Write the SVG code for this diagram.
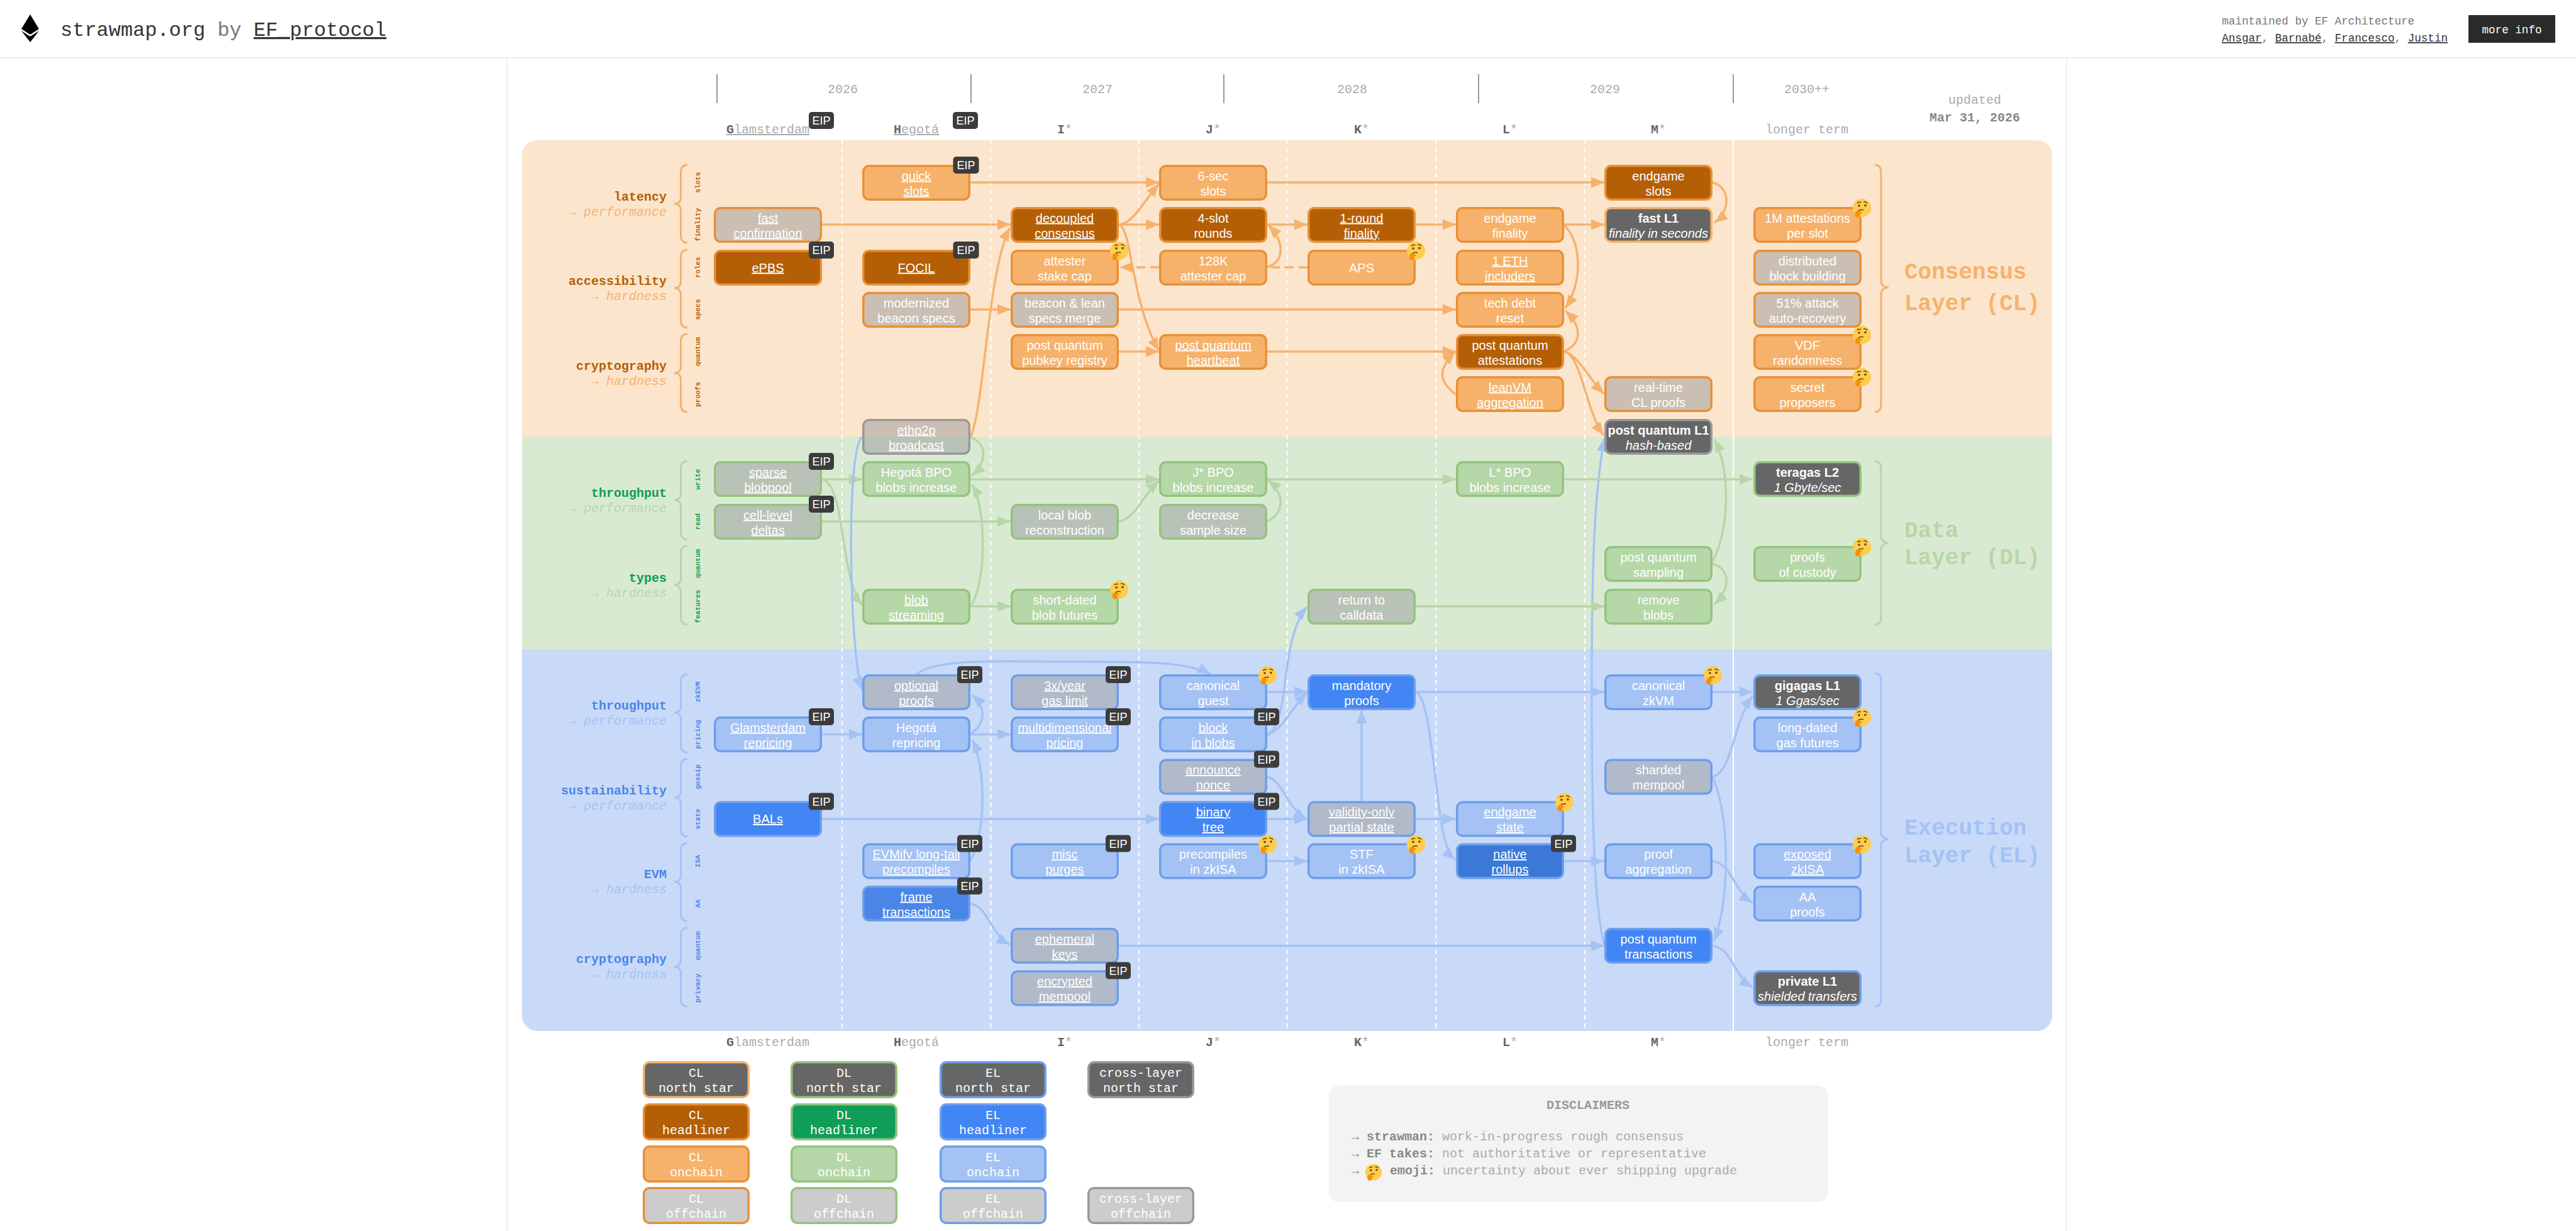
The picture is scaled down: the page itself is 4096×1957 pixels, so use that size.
<svg xmlns="http://www.w3.org/2000/svg" width="4096" height="1957" viewBox="0 0 4096 1957">
<style>
text{font-family:"Liberation Mono",monospace}
.t{font-family:"Liberation Sans",Arial,sans-serif;font-size:20px;fill:#fff;text-anchor:middle}
.u{text-decoration:underline}.i{font-style:italic}.s{font-weight:700}
.nd>rect{stroke-width:3.5}
.cl-h{fill:#b45f06;stroke:#e69138}.cl-o{fill:#f6b26b;stroke:#e69138}.cl-x{fill:#999;fill-opacity:.5;stroke:#e69138}.cl-n{fill:#666;stroke:#f6b26b}
.dl-h{fill:#0f9d58;stroke:#93c47d}.dl-o{fill:#b6d7a8;stroke:#93c47d}.dl-x{fill:#999;fill-opacity:.5;stroke:#93c47d}.dl-n{fill:#666;stroke:#93c47d}
.el-h{fill:#4285f4;stroke:#6d9eeb}.el-o{fill:#a4c2f4;stroke:#6d9eeb}.el-x{fill:#999;fill-opacity:.5;stroke:#6d9eeb}.el-n{fill:#666;stroke:#6d9eeb}
.xl-n{fill:#666;stroke:#999}.xl-x{fill:#999;fill-opacity:.5;stroke:#999}
.eb{fill:#3c3c3c}
.et{font-family:"Liberation Sans",Arial,sans-serif;font-size:18px;fill:#fff;text-anchor:middle}
.c{fill:none;stroke-width:3.5}
.ccl{stroke:#f6b26b;marker-end:url(#acl)}.cdl{stroke:#b6d7a8;marker-end:url(#adl)}.cel{stroke:#a4c2f4;marker-end:url(#ael)}
.br{fill:none;stroke-width:3}
.fork{font-size:20px;fill:#aaa;text-anchor:middle}.fork .s{fill:#666}
.year{font-size:20px;fill:#aaa;text-anchor:middle}
.cat{font-size:20px;font-weight:700;text-anchor:end}
.sub{font-size:20px;text-anchor:end;font-weight:700}
.sub tspan{font-style:italic;font-weight:400}
.vl{font-size:11px;font-weight:700;text-anchor:middle}
.big{font-size:36px;font-weight:700}
.lg{font-size:20px;fill:#fff;text-anchor:middle}
.dash{stroke:#fff;stroke-width:2;stroke-dasharray:7 6}
.hd{font-size:17.6px;fill:#777}
.dis{font-size:20px;fill:#aaa}.dis .s{fill:#888}
</style>
<defs>
<marker id="acl" markerUnits="userSpaceOnUse" markerWidth="22" markerHeight="18" refX="21" refY="9" orient="auto"><path d="M0 .5L21 9L0 17.5z" fill="#f6b26b"/></marker>
<marker id="adl" markerUnits="userSpaceOnUse" markerWidth="22" markerHeight="18" refX="21" refY="9" orient="auto"><path d="M0 .5L21 9L0 17.5z" fill="#b6d7a8"/></marker>
<marker id="ael" markerUnits="userSpaceOnUse" markerWidth="22" markerHeight="18" refX="21" refY="9" orient="auto"><path d="M0 .5L21 9L0 17.5z" fill="#a4c2f4"/></marker>
<symbol id="think" viewBox="0 0 30 30">
<circle cx="15.5" cy="14.5" r="14.5" fill="#ffcc4d"/>
<path d="M8 7q3-3 6-1M18 5q4-1 6 2" fill="none" stroke="#664500" stroke-width="1.6"/>
<circle cx="11" cy="11" r="1.8" fill="#664500"/><circle cx="21" cy="10.5" r="1.8" fill="#664500"/>
<path d="M10 19q4-3 8-1" fill="none" stroke="#664500" stroke-width="1.6"/>
<path d="M5 23c0-3 3-5 5-4l5 2c1 1 0 3-2 2l-1 0 1 3c0 3-4 4-6 3c-2-1-3-4-2-6z" fill="#f4900c"/>
</symbol>
</defs>
<rect width="4096" height="1957" fill="#fff"/>
<g id="header">
<path d="M806 92V1957M3286 92V1957" stroke="#eee" stroke-width="2" fill="none"/>
<path d="M0 92H4096" stroke="#eee" stroke-width="2"/>
<path d="M48 23L62 46L48 55L34 46z" fill="#000"/><path d="M34 49L48 58L62 49L48 67z" fill="#000"/>
<text x="96" y="57" font-size="32" fill="#333">strawmap.org <tspan fill="#777">by</tspan> <tspan class="u">EF_protocol</tspan></text>
<text class="hd" x="3533" y="39">maintained by EF Architecture</text>
<text class="hd" x="3533" y="66"><tspan class="u" fill="#333">Ansgar</tspan>, <tspan class="u" fill="#333">Barnabé</tspan>, <tspan class="u" fill="#333">Francesco</tspan>, <tspan class="u" fill="#333">Justin</tspan></text>
<rect x="3925" y="24" width="138" height="44" fill="#2a2a2a"/>
<text x="3994" y="53" font-size="17.6" fill="#fff" text-anchor="middle">more info</text>
</g>
<g id="timeline">
<path d="M1140 118V164M1544 118V164M1946 118V164M2351 118V164M2756 118V164" stroke="#999" stroke-width="2" fill="none"/>
<text class="year" x="1340" y="148">2026</text>
<text class="year" x="1745" y="148">2027</text>
<text class="year" x="2150" y="148">2028</text>
<text class="year" x="2552" y="148">2029</text>
<text class="year" x="2873" y="148">2030++</text>
<text class="year" x="3140" y="165">updated</text>
<text class="year s" x="3140" y="193" style="fill:#888">Mar 31, 2026</text>
<text class="fork u" x="1221" y="212"><tspan class="s">G</tspan>lamsterdam</text>
<text class="fork u" x="1457" y="212"><tspan class="s">H</tspan>egotá</text>
<text class="fork" x="1693" y="212"><tspan class="s">I</tspan>*</text>
<text class="fork" x="1929" y="212"><tspan class="s">J</tspan>*</text>
<text class="fork" x="2165" y="212"><tspan class="s">K</tspan>*</text>
<text class="fork" x="2401" y="212"><tspan class="s">L</tspan>*</text>
<text class="fork" x="2637" y="212"><tspan class="s">M</tspan>*</text>
<text class="fork" x="2873" y="212">longer term</text>
<rect class="eb" x="1286" y="178" width="40" height="27" rx="5"/><text class="et" x="1306" y="198">EIP</text>
<rect class="eb" x="1515" y="178" width="40" height="27" rx="5"/><text class="et" x="1535" y="198">EIP</text>
<text class="fork" x="1221" y="1663"><tspan class="s">G</tspan>lamsterdam</text>
<text class="fork" x="1457" y="1663"><tspan class="s">H</tspan>egotá</text>
<text class="fork" x="1693" y="1663"><tspan class="s">I</tspan>*</text>
<text class="fork" x="1929" y="1663"><tspan class="s">J</tspan>*</text>
<text class="fork" x="2165" y="1663"><tspan class="s">K</tspan>*</text>
<text class="fork" x="2401" y="1663"><tspan class="s">L</tspan>*</text>
<text class="fork" x="2637" y="1663"><tspan class="s">M</tspan>*</text>
<text class="fork" x="2873" y="1663">longer term</text>
</g>
<g id="bands">
<path d="M830 694V247a24 24 0 0 1 24-24H3239a24 24 0 0 1 24 24V694z" fill="#fce5cd"/>
<rect x="830" y="694" width="2433" height="338" fill="#d9ead3"/>
<path d="M830 1032H3263V1615a24 24 0 0 1-24 24H854a24 24 0 0 1-24-24z" fill="#c9daf8"/>
<path class="dash" d="M1339 223V1639M1575.500 223V1639M1811 223V1639M2046.500 223V1639M2283 223V1639M2520 223V1639"/>
<path d="M2756 223V1639" stroke="#fff" stroke-width="2"/>
</g>
<g id="labels">
<text class="cat" x="1060" y="319" fill="#b45f06">latency</text><text class="sub" x="1060" y="343" fill="#f6b26b">→ <tspan>performance</tspan></text>
<text class="cat" x="1060" y="453" fill="#b45f06">accessibility</text><text class="sub" x="1060" y="477" fill="#f6b26b">→ <tspan>hardness</tspan></text>
<text class="cat" x="1060" y="588" fill="#b45f06">cryptography</text><text class="sub" x="1060" y="612" fill="#f6b26b">→ <tspan>hardness</tspan></text>
<text class="cat" x="1060" y="790" fill="#0f9d58">throughput</text><text class="sub" x="1060" y="814" fill="#b6d7a8">→ <tspan>performance</tspan></text>
<text class="cat" x="1060" y="925" fill="#0f9d58">types</text><text class="sub" x="1060" y="949" fill="#b6d7a8">→ <tspan>hardness</tspan></text>
<text class="cat" x="1060" y="1128" fill="#4a86e8">throughput</text><text class="sub" x="1060" y="1152" fill="#a4c2f4">→ <tspan>performance</tspan></text>
<text class="cat" x="1060" y="1263" fill="#4a86e8">sustainability</text><text class="sub" x="1060" y="1287" fill="#a4c2f4">→ <tspan>performance</tspan></text>
<text class="cat" x="1060" y="1396" fill="#4a86e8">EVM</text><text class="sub" x="1060" y="1420" fill="#a4c2f4">→ <tspan>hardness</tspan></text>
<text class="cat" x="1060" y="1531" fill="#4a86e8">cryptography</text><text class="sub" x="1060" y="1555" fill="#a4c2f4">→ <tspan>hardness</tspan></text>
<path class="br" stroke="#f6b26b" d="M1093 262C1086 262 1082.500 266 1082.500 274V314C1082.500 320 1079 324 1072 324C1079 324 1082.500 328 1082.500 334V374C1082.500 382 1086 386 1093 386"/>
<path class="br" stroke="#f6b26b" d="M1093 397C1086 397 1082.500 401 1082.500 409V448C1082.500 454 1079 458 1072 458C1079 458 1082.500 462 1082.500 468V509C1082.500 517 1086 521 1093 521"/>
<path class="br" stroke="#f6b26b" d="M1093 531C1086 531 1082.500 535 1082.500 543V583C1082.500 589 1079 593 1072 593C1079 593 1082.500 597 1082.500 603V643C1082.500 651 1086 655 1093 655"/>
<path class="br" stroke="#b6d7a8" d="M1093 733C1086 733 1082.500 737 1082.500 745V785C1082.500 791 1079 795 1072 795C1079 795 1082.500 799 1082.500 805V846C1082.500 854 1086 858 1093 858"/>
<path class="br" stroke="#b6d7a8" d="M1093 868C1086 868 1082.500 872 1082.500 880V920C1082.500 926 1079 930 1072 930C1079 930 1082.500 934 1082.500 940V981C1082.500 989 1086 993 1093 993"/>
<path class="br" stroke="#a4c2f4" d="M1093 1072C1086 1072 1082.500 1076 1082.500 1084V1123C1082.500 1129 1079 1133 1072 1133C1079 1133 1082.500 1137 1082.500 1143V1184C1082.500 1192 1086 1196 1093 1196"/>
<path class="br" stroke="#a4c2f4" d="M1093 1206.500C1086 1206.500 1082.500 1210 1082.500 1218V1258C1082.500 1264 1079 1268 1072 1268C1079 1268 1082.500 1272 1082.500 1278V1318C1082.500 1326 1086 1330 1093 1330"/>
<path class="br" stroke="#a4c2f4" d="M1093 1340.500C1086 1340.500 1082.500 1344 1082.500 1352V1392C1082.500 1398 1079 1402 1072 1402C1079 1402 1082.500 1406 1082.500 1412V1452C1082.500 1460 1086 1464.500 1093 1464.500"/>
<path class="br" stroke="#a4c2f4" d="M1093 1475C1086 1475 1082.500 1479 1082.500 1487V1527C1082.500 1533 1079 1537 1072 1537C1079 1537 1082.500 1541 1082.500 1547V1588C1082.500 1596 1086 1600 1093 1600"/>
<path class="br" stroke="#f6b26b" d="M2981 262C2988 262 2991 266 2991 274V447C2991 453 2996 457 3003 457C2996 457 2991 461 2991 467V643C2991 651 2988 655 2981 655"/>
<path class="br" stroke="#b6d7a8" d="M2981 733C2988 733 2991 737 2991 745V853C2991 859 2996 863 3003 863C2996 863 2991 867 2991 873V981C2991 989 2988 993 2981 993"/>
<path class="br" stroke="#a4c2f4" d="M2981 1070C2988 1070 2991 1074 2991 1082V1324C2991 1330 2996 1334 3003 1334C2996 1334 2991 1338 2991 1344V1588C2991 1596 2988 1600 2981 1600"/>
<g fill="#b45f06">
<text class="vl" transform="translate(1113,290) rotate(-90)">slots</text>
<text class="vl" transform="translate(1113,357) rotate(-90)">finality</text>
<text class="vl" transform="translate(1113,425) rotate(-90)">roles</text>
<text class="vl" transform="translate(1113,492) rotate(-90)">specs</text>
<text class="vl" transform="translate(1113,559) rotate(-90)">quantum</text>
<text class="vl" transform="translate(1113,627) rotate(-90)">proofs</text>
</g>
<g fill="#0f9d58">
<text class="vl" transform="translate(1113,762) rotate(-90)">write</text>
<text class="vl" transform="translate(1113,829) rotate(-90)">read</text>
<text class="vl" transform="translate(1113,896) rotate(-90)">quantum</text>
<text class="vl" transform="translate(1113,964) rotate(-90)">features</text>
</g>
<g fill="#4a86e8">
<text class="vl" transform="translate(1113,1100) rotate(-90)">zkEVM</text>
<text class="vl" transform="translate(1113,1167.500) rotate(-90)">pricing</text>
<text class="vl" transform="translate(1113,1235) rotate(-90)">gossip</text>
<text class="vl" transform="translate(1113,1302) rotate(-90)">state</text>
<text class="vl" transform="translate(1113,1369) rotate(-90)">ISA</text>
<text class="vl" transform="translate(1113,1436.500) rotate(-90)">AA</text>
<text class="vl" transform="translate(1113,1503.500) rotate(-90)">quantum</text>
<text class="vl" transform="translate(1113,1571) rotate(-90)">privacy</text>
</g>
<text class="big" x="3028" y="443" fill="#f6b26b">Consensus</text><text class="big" x="3028" y="493" fill="#f6b26b">Layer (CL)</text>
<text class="big" x="3028" y="854" fill="#b6d7a8">Data</text><text class="big" x="3028" y="897" fill="#b6d7a8">Layer (DL)</text>
<text class="big" x="3028" y="1327" fill="#a4c2f4">Execution</text><text class="big" x="3028" y="1371" fill="#a4c2f4">Layer (EL)</text>
</g>
<g id="connectors">
<path class="c ccl" d="M1543 290H1843"/>
<path class="c ccl" d="M1779 357C1800 357 1815 325 1843 292"/>
<path class="c ccl" d="M1779 357H1843"/>
<path class="c ccl" d="M1779 357C1800 362 1798 480 1843 558"/>
<path class="c ccl" d="M1307 357H1607"/>
<path class="c ccl" d="M1543 695C1565 650 1570 430 1606 362"/>
<path class="c ccl" d="M1543 492H1607"/>
<path class="c ccl" d="M1779 492H2315"/>
<path class="c ccl" d="M1779 559H1843"/>
<path class="c ccl" d="M2015 559H2315"/>
<path class="c ccl" d="M2315 627C2285 605 2288 585 2314 559"/>
<path class="c ccl" stroke-dasharray="14 8" d="M1843 425H1780"/>
<path class="c" stroke="#f6b26b" stroke-dasharray="14 8" d="M2079 425H2015"/>
<path class="c ccl" d="M2015 425C2043 415 2043 385 2017 358"/>
<path class="c ccl" d="M2015 357H2079"/>
<path class="c ccl" d="M2251 357H2315"/>
<path class="c ccl" d="M2015 290H2551"/>
<path class="c ccl" d="M2487 357H2551"/>
<path class="c ccl" d="M2723 290C2752 298 2752 335 2726 354"/>
<path class="c ccl" d="M2487 358C2516 385 2516 450 2489 490"/>
<path class="c ccl" d="M2487 559C2516 545 2516 520 2489 494"/>
<path class="c ccl" d="M2487 559C2510 565 2525 600 2550 626"/>
<path class="c ccl" d="M2487 559C2515 565 2520 650 2550 692"/>
<path class="c cel" d="M2551 1502C2535 1445 2531 1300 2531 1100C2531 950 2532 800 2551 697"/>
<path class="c cdl" d="M2723 893C2750 840 2752 750 2726 698"/>
<path class="c cdl" d="M2723 896C2752 905 2752 935 2726 961"/>
<path class="c cdl" d="M2251 964H2551"/>
<path class="c cel" d="M2015 1168C2030 1160 2038 1130 2041 1100C2047 1060 2052 995 2078 965"/>
<path class="c cdl" d="M2015 762H2315"/>
<path class="c cdl" d="M2487 762H2787"/>
<path class="c cdl" d="M1307 762H1371"/>
<path class="c cdl" d="M1307 762C1345 770 1335 920 1371 962"/>
<path class="c cdl" d="M1307 829H1607"/>
<path class="c cdl" d="M1779 829C1805 825 1815 790 1843 764"/>
<path class="c cdl" d="M2015 829C2043 815 2043 785 2016 763"/>
<path class="c cdl" d="M1543 762H1843"/>
<path class="c cdl" d="M1543 695C1570 705 1570 735 1545 756"/>
<path class="c cdl" d="M1543 964C1568 930 1570 810 1545 770"/>
<path class="c cdl" d="M1543 964H1607"/>
<path class="c cel" d="M1371 695C1345 710 1350 1040 1371 1097"/>
<path class="c cel" d="M1457 1072C1490 1045 1600 1052 1700 1052C1800 1052 1885 1050 1925 1072"/>
<path class="c cel" d="M1307 1167.500H1371"/>
<path class="c cel" d="M1543 1167.500H1607"/>
<path class="c cel" d="M1543 1167C1568 1150 1568 1125 1546 1105"/>
<path class="c cel" d="M1543 1369C1568 1322 1568 1222 1546 1176"/>
<path class="c cel" d="M1307 1302H1843"/>
<path class="c cel" d="M2015 1100H2079"/>
<path class="c cel" d="M2015 1168C2040 1160 2050 1130 2078 1101"/>
<path class="c cel" d="M2251 1100H2551"/>
<path class="c cel" d="M2723 1100H2787"/>
<path class="c cel" d="M2251 1100C2268 1105 2275 1180 2283 1240C2290 1300 2295 1350 2314 1367"/>
<path class="c cel" d="M2165 1273.500V1129"/>
<path class="c cel" d="M2251 1302H2315"/>
<path class="c cel" d="M2015 1302H2079"/>
<path class="c cel" d="M2015 1235C2040 1241 2045 1283 2078 1303"/>
<path class="c cel" d="M2015 1369H2079"/>
<path class="c cel" d="M2487 1369H2551"/>
<path class="c cel" d="M1779 1503.500H2551"/>
<path class="c cel" d="M1543 1436.500C1570 1440 1575 1485 1606 1502"/>
<path class="c cel" d="M2723 1235C2755 1227 2755 1150 2787 1106"/>
<path class="c cel" d="M2723 1235C2751 1295 2751 1435 2725 1496"/>
<path class="c cel" d="M2723 1369C2755 1374 2755 1415 2787 1435"/>
<path class="c cel" d="M2723 1503.500C2755 1508 2755 1550 2787 1570"/>
</g>
<g id="nodes">
<g class="nd" id="quick-slots" transform="translate(1371,262)"><rect class="cl-o" x="1.750" y="1.750" width="168.500" height="53.500" rx="9"/><text class="t u" x="86" y="24.500">quick</text><text class="t u" x="86" y="48.500">slots</text><rect class="eb" x="144.500" y="-13" width="41" height="27" rx="5"/><text class="et" x="165" y="7">EIP</text></g>
<g class="nd" id="6-sec-slots" transform="translate(1843,262)"><rect class="cl-o" x="1.750" y="1.750" width="168.500" height="53.500" rx="9"/><text class="t" x="86" y="24.500">6-sec</text><text class="t" x="86" y="48.500">slots</text></g>
<g class="nd" id="endgame-slots" transform="translate(2551,262)"><rect class="cl-h" x="1.750" y="1.750" width="168.500" height="53.500" rx="9"/><text class="t" x="86" y="24.500">endgame</text><text class="t" x="86" y="48.500">slots</text></g>
<g class="nd" id="fast-confirmation" transform="translate(1135,329)"><rect class="cl-x" x="1.750" y="1.750" width="168.500" height="53.500" rx="9"/><text class="t u" x="86" y="24.500">fast</text><text class="t u" x="86" y="48.500">confirmation</text></g>
<g class="nd" id="decoupled-consensus" transform="translate(1607,329)"><rect class="cl-h" x="1.750" y="1.750" width="168.500" height="53.500" rx="9"/><text class="t u" x="86" y="24.500">decoupled</text><text class="t u" x="86" y="48.500">consensus</text></g>
<g class="nd" id="4-slot-rounds" transform="translate(1843,329)"><rect class="cl-h" x="1.750" y="1.750" width="168.500" height="53.500" rx="9"/><text class="t" x="86" y="24.500">4-slot</text><text class="t" x="86" y="48.500">rounds</text></g>
<g class="nd" id="1-round-finality" transform="translate(2079,329)"><rect class="cl-h" x="1.750" y="1.750" width="168.500" height="53.500" rx="9"/><text class="t u" x="86" y="24.500">1-round</text><text class="t u" x="86" y="48.500">finality</text></g>
<g class="nd" id="endgame-finality" transform="translate(2315,329)"><rect class="cl-o" x="1.750" y="1.750" width="168.500" height="53.500" rx="9"/><text class="t" x="86" y="24.500">endgame</text><text class="t" x="86" y="48.500">finality</text></g>
<g class="nd" id="fast-l1" transform="translate(2551,329)"><rect class="cl-n" x="1.750" y="1.750" width="168.500" height="53.500" rx="9"/><text class="t s" x="86" y="24.500">fast L1</text><text class="t i" x="86" y="48.500">finality in seconds</text></g>
<g class="nd" id="1m-attestations" transform="translate(2788,329)"><rect class="cl-o" x="1.750" y="1.750" width="168.500" height="53.500" rx="9"/><text class="t" x="86" y="24.500">1M attestations</text><text class="t" x="86" y="48.500">per slot</text><use href="#think" x="157" y="-13" width="30" height="30"/></g>
<g class="nd" id="epbs" transform="translate(1135,397)"><rect class="cl-h" x="1.750" y="1.750" width="168.500" height="53.500" rx="9"/><text class="t u" x="86" y="35.500">ePBS</text><rect class="eb" x="151" y="-13" width="40" height="27" rx="5"/><text class="et" x="171" y="7">EIP</text></g>
<g class="nd" id="focil" transform="translate(1371,397)"><rect class="cl-h" x="1.750" y="1.750" width="168.500" height="53.500" rx="9"/><text class="t u" x="86" y="35.500">FOCIL</text><rect class="eb" x="144.500" y="-13" width="41" height="27" rx="5"/><text class="et" x="165" y="7">EIP</text></g>
<g class="nd" id="attester-stake-cap" transform="translate(1607,397)"><rect class="cl-o" x="1.750" y="1.750" width="168.500" height="53.500" rx="9"/><text class="t" x="86" y="24.500">attester</text><text class="t" x="86" y="48.500">stake cap</text><use href="#think" x="157" y="-13" width="30" height="30"/></g>
<g class="nd" id="128k-attester-cap" transform="translate(1843,397)"><rect class="cl-o" x="1.750" y="1.750" width="168.500" height="53.500" rx="9"/><text class="t" x="86" y="24.500">128K</text><text class="t" x="86" y="48.500">attester cap</text></g>
<g class="nd" id="aps" transform="translate(2079,397)"><rect class="cl-o" x="1.750" y="1.750" width="168.500" height="53.500" rx="9"/><text class="t" x="86" y="35.500">APS</text><use href="#think" x="157" y="-13" width="30" height="30"/></g>
<g class="nd" id="1-eth-includers" transform="translate(2315,397)"><rect class="cl-o" x="1.750" y="1.750" width="168.500" height="53.500" rx="9"/><text class="t u" x="86" y="24.500">1 ETH</text><text class="t u" x="86" y="48.500">includers</text></g>
<g class="nd" id="distributed-block-building" transform="translate(2788,397)"><rect class="cl-x" x="1.750" y="1.750" width="168.500" height="53.500" rx="9"/><text class="t" x="86" y="24.500">distributed</text><text class="t" x="86" y="48.500">block building</text></g>
<g class="nd" id="modernized-beacon-specs" transform="translate(1371,464)"><rect class="cl-x" x="1.750" y="1.750" width="168.500" height="53.500" rx="9"/><text class="t" x="86" y="24.500">modernized</text><text class="t" x="86" y="48.500">beacon specs</text></g>
<g class="nd" id="beacon-lean-specs-merge" transform="translate(1607,464)"><rect class="cl-x" x="1.750" y="1.750" width="168.500" height="53.500" rx="9"/><text class="t" x="86" y="24.500">beacon &amp; lean</text><text class="t" x="86" y="48.500">specs merge</text></g>
<g class="nd" id="tech-debt-reset" transform="translate(2315,464)"><rect class="cl-o" x="1.750" y="1.750" width="168.500" height="53.500" rx="9"/><text class="t" x="86" y="24.500">tech debt</text><text class="t" x="86" y="48.500">reset</text></g>
<g class="nd" id="51-attack-auto-recovery" transform="translate(2788,464)"><rect class="cl-x" x="1.750" y="1.750" width="168.500" height="53.500" rx="9"/><text class="t" x="86" y="24.500">51% attack</text><text class="t" x="86" y="48.500">auto-recovery</text></g>
<g class="nd" id="pq-pubkey-registry" transform="translate(1607,531)"><rect class="cl-o" x="1.750" y="1.750" width="168.500" height="53.500" rx="9"/><text class="t" x="86" y="24.500">post quantum</text><text class="t" x="86" y="48.500">pubkey registry</text></g>
<g class="nd" id="pq-heartbeat" transform="translate(1843,531)"><rect class="cl-o" x="1.750" y="1.750" width="168.500" height="53.500" rx="9"/><text class="t u" x="86" y="24.500">post quantum</text><text class="t u" x="86" y="48.500">heartbeat</text></g>
<g class="nd" id="pq-attestations" transform="translate(2315,531)"><rect class="cl-h" x="1.750" y="1.750" width="168.500" height="53.500" rx="9"/><text class="t" x="86" y="24.500">post quantum</text><text class="t" x="86" y="48.500">attestations</text></g>
<g class="nd" id="vdf-randomness" transform="translate(2788,531)"><rect class="cl-o" x="1.750" y="1.750" width="168.500" height="53.500" rx="9"/><text class="t" x="86" y="24.500">VDF</text><text class="t" x="86" y="48.500">randomness</text><use href="#think" x="157" y="-13" width="30" height="30"/></g>
<g class="nd" id="leanvm-aggregation" transform="translate(2315,598)"><rect class="cl-o" x="1.750" y="1.750" width="168.500" height="53.500" rx="9"/><text class="t u" x="86" y="24.500">leanVM</text><text class="t u" x="86" y="48.500">aggregation</text></g>
<g class="nd" id="real-time-cl-proofs" transform="translate(2551,598)"><rect class="cl-x" x="1.750" y="1.750" width="168.500" height="53.500" rx="9"/><text class="t" x="86" y="24.500">real-time</text><text class="t" x="86" y="48.500">CL proofs</text></g>
<g class="nd" id="secret-proposers" transform="translate(2788,598)"><rect class="cl-o" x="1.750" y="1.750" width="168.500" height="53.500" rx="9"/><text class="t" x="86" y="24.500">secret</text><text class="t" x="86" y="48.500">proposers</text><use href="#think" x="157" y="-13" width="30" height="30"/></g>
<g class="nd" id="ethp2p-broadcast" transform="translate(1371,666)"><rect class="xl-x" x="1.750" y="1.750" width="168.500" height="53.500" rx="9"/><text class="t u" x="86" y="24.500">ethp2p</text><text class="t u" x="86" y="48.500">broadcast</text></g>
<g class="nd" id="post-quantum-l1" transform="translate(2551,666)"><rect class="xl-n" x="1.750" y="1.750" width="168.500" height="53.500" rx="9"/><text class="t s" x="86" y="24.500">post quantum L1</text><text class="t i" x="86" y="48.500">hash-based</text></g>

<g class="nd" id="sparse-blobpool" transform="translate(1135,733)"><rect class="dl-x" x="1.750" y="1.750" width="168.500" height="53.500" rx="9"/><text class="t u" x="86" y="24.500">sparse</text><text class="t u" x="86" y="48.500">blobpool</text><rect class="eb" x="151" y="-13" width="40" height="27" rx="5"/><text class="et" x="171" y="7">EIP</text></g>
<g class="nd" id="hegota-bpo" transform="translate(1371,733)"><rect class="dl-o" x="1.750" y="1.750" width="168.500" height="53.500" rx="9"/><text class="t" x="86" y="24.500">Hegotá BPO</text><text class="t" x="86" y="48.500">blobs increase</text></g>
<g class="nd" id="j-bpo" transform="translate(1843,733)"><rect class="dl-o" x="1.750" y="1.750" width="168.500" height="53.500" rx="9"/><text class="t" x="86" y="24.500">J* BPO</text><text class="t" x="86" y="48.500">blobs increase</text></g>
<g class="nd" id="l-bpo" transform="translate(2315,733)"><rect class="dl-o" x="1.750" y="1.750" width="168.500" height="53.500" rx="9"/><text class="t" x="86" y="24.500">L* BPO</text><text class="t" x="86" y="48.500">blobs increase</text></g>
<g class="nd" id="teragas-l2" transform="translate(2788,733)"><rect class="dl-n" x="1.750" y="1.750" width="168.500" height="53.500" rx="9"/><text class="t s" x="86" y="24.500">teragas L2</text><text class="t i" x="86" y="48.500">1 Gbyte/sec</text></g>
<g class="nd" id="cell-level-deltas" transform="translate(1135,801)"><rect class="dl-x" x="1.750" y="1.750" width="168.500" height="53.500" rx="9"/><text class="t u" x="86" y="24.500">cell-level</text><text class="t u" x="86" y="48.500">deltas</text><rect class="eb" x="151" y="-13" width="40" height="27" rx="5"/><text class="et" x="171" y="7">EIP</text></g>
<g class="nd" id="local-blob-reconstruction" transform="translate(1607,801)"><rect class="dl-x" x="1.750" y="1.750" width="168.500" height="53.500" rx="9"/><text class="t" x="86" y="24.500">local blob</text><text class="t" x="86" y="48.500">reconstruction</text></g>
<g class="nd" id="decrease-sample-size" transform="translate(1843,801)"><rect class="dl-x" x="1.750" y="1.750" width="168.500" height="53.500" rx="9"/><text class="t" x="86" y="24.500">decrease</text><text class="t" x="86" y="48.500">sample size</text></g>
<g class="nd" id="pq-sampling" transform="translate(2551,868)"><rect class="dl-o" x="1.750" y="1.750" width="168.500" height="53.500" rx="9"/><text class="t" x="86" y="24.500">post quantum</text><text class="t" x="86" y="48.500">sampling</text></g>
<g class="nd" id="proofs-of-custody" transform="translate(2788,868)"><rect class="dl-o" x="1.750" y="1.750" width="168.500" height="53.500" rx="9"/><text class="t" x="86" y="24.500">proofs</text><text class="t" x="86" y="48.500">of custody</text><use href="#think" x="157" y="-13" width="30" height="30"/></g>
<g class="nd" id="blob-streaming" transform="translate(1371,936)"><rect class="dl-o" x="1.750" y="1.750" width="168.500" height="53.500" rx="9"/><text class="t u" x="86" y="24.500">blob</text><text class="t u" x="86" y="48.500">streaming</text></g>
<g class="nd" id="short-dated-blob-futures" transform="translate(1607,936)"><rect class="dl-o" x="1.750" y="1.750" width="168.500" height="53.500" rx="9"/><text class="t" x="86" y="24.500">short-dated</text><text class="t" x="86" y="48.500">blob futures</text><use href="#think" x="157" y="-13" width="30" height="30"/></g>
<g class="nd" id="return-to-calldata" transform="translate(2079,936)"><rect class="dl-x" x="1.750" y="1.750" width="168.500" height="53.500" rx="9"/><text class="t" x="86" y="24.500">return to</text><text class="t" x="86" y="48.500">calldata</text></g>
<g class="nd" id="remove-blobs" transform="translate(2551,936)"><rect class="dl-o" x="1.750" y="1.750" width="168.500" height="53.500" rx="9"/><text class="t" x="86" y="24.500">remove</text><text class="t" x="86" y="48.500">blobs</text></g>

<g class="nd" id="optional-proofs" transform="translate(1371,1072)"><rect class="el-x" x="1.750" y="1.750" width="168.500" height="53.500" rx="9"/><text class="t u" x="86" y="24.500">optional</text><text class="t u" x="86" y="48.500">proofs</text><rect class="eb" x="151" y="-13" width="40" height="27" rx="5"/><text class="et" x="171" y="7">EIP</text></g>
<g class="nd" id="3x-year-gas-limit" transform="translate(1607,1072)"><rect class="el-x" x="1.750" y="1.750" width="168.500" height="53.500" rx="9"/><text class="t u" x="86" y="24.500">3x/year</text><text class="t u" x="86" y="48.500">gas limit</text><rect class="eb" x="151" y="-13" width="40" height="27" rx="5"/><text class="et" x="171" y="7">EIP</text></g>
<g class="nd" id="canonical-guest" transform="translate(1843,1072)"><rect class="el-o" x="1.750" y="1.750" width="168.500" height="53.500" rx="9"/><text class="t" x="86" y="24.500">canonical</text><text class="t" x="86" y="48.500">guest</text><use href="#think" x="157" y="-13" width="30" height="30"/></g>
<g class="nd" id="mandatory-proofs" transform="translate(2079,1072)"><rect class="el-h" x="1.750" y="1.750" width="168.500" height="53.500" rx="9"/><text class="t" x="86" y="24.500">mandatory</text><text class="t" x="86" y="48.500">proofs</text></g>
<g class="nd" id="canonical-zkvm" transform="translate(2551,1072)"><rect class="el-o" x="1.750" y="1.750" width="168.500" height="53.500" rx="9"/><text class="t" x="86" y="24.500">canonical</text><text class="t" x="86" y="48.500">zkVM</text><use href="#think" x="157" y="-13" width="30" height="30"/></g>
<g class="nd" id="gigagas-l1" transform="translate(2788,1072)"><rect class="el-n" x="1.750" y="1.750" width="168.500" height="53.500" rx="9"/><text class="t s" x="86" y="24.500">gigagas L1</text><text class="t i" x="86" y="48.500">1 Ggas/sec</text></g>
<g class="nd" id="glamsterdam-repricing" transform="translate(1135,1139)"><rect class="el-o" x="1.750" y="1.750" width="168.500" height="53.500" rx="9"/><text class="t u" x="86" y="24.500">Glamsterdam</text><text class="t u" x="86" y="48.500">repricing</text><rect class="eb" x="151" y="-13" width="40" height="27" rx="5"/><text class="et" x="171" y="7">EIP</text></g>
<g class="nd" id="hegota-repricing" transform="translate(1371,1139)"><rect class="el-o" x="1.750" y="1.750" width="168.500" height="53.500" rx="9"/><text class="t" x="86" y="24.500">Hegotá</text><text class="t" x="86" y="48.500">repricing</text></g>
<g class="nd" id="multidimensional-pricing" transform="translate(1607,1139)"><rect class="el-o" x="1.750" y="1.750" width="168.500" height="53.500" rx="9"/><text class="t u" x="86" y="24.500">multidimensional</text><text class="t u" x="86" y="48.500">pricing</text><rect class="eb" x="151" y="-13" width="40" height="27" rx="5"/><text class="et" x="171" y="7">EIP</text></g>
<g class="nd" id="block-in-blobs" transform="translate(1843,1139)"><rect class="el-o" x="1.750" y="1.750" width="168.500" height="53.500" rx="9"/><text class="t u" x="86" y="24.500">block</text><text class="t u" x="86" y="48.500">in blobs</text><rect class="eb" x="151" y="-13" width="40" height="27" rx="5"/><text class="et" x="171" y="7">EIP</text></g>
<g class="nd" id="long-dated-gas-futures" transform="translate(2788,1139)"><rect class="el-o" x="1.750" y="1.750" width="168.500" height="53.500" rx="9"/><text class="t" x="86" y="24.500">long-dated</text><text class="t" x="86" y="48.500">gas futures</text><use href="#think" x="157" y="-13" width="30" height="30"/></g>
<g class="nd" id="announce-nonce" transform="translate(1843,1206.500)"><rect class="el-x" x="1.750" y="1.750" width="168.500" height="53.500" rx="9"/><text class="t u" x="86" y="24.500">announce</text><text class="t u" x="86" y="48.500">nonce</text><rect class="eb" x="151" y="-13" width="40" height="27" rx="5"/><text class="et" x="171" y="7">EIP</text></g>
<g class="nd" id="sharded-mempool" transform="translate(2551,1206.500)"><rect class="el-x" x="1.750" y="1.750" width="168.500" height="53.500" rx="9"/><text class="t" x="86" y="24.500">sharded</text><text class="t" x="86" y="48.500">mempool</text></g>
<g class="nd" id="bals" transform="translate(1135,1273.500)"><rect class="el-h" x="1.750" y="1.750" width="168.500" height="53.500" rx="9"/><text class="t u" x="86" y="35.500">BALs</text><rect class="eb" x="151" y="-13" width="40" height="27" rx="5"/><text class="et" x="171" y="7">EIP</text></g>
<g class="nd" id="binary-tree" transform="translate(1843,1273.500)"><rect class="el-h" x="1.750" y="1.750" width="168.500" height="53.500" rx="9"/><text class="t u" x="86" y="24.500">binary</text><text class="t u" x="86" y="48.500">tree</text><rect class="eb" x="151" y="-13" width="40" height="27" rx="5"/><text class="et" x="171" y="7">EIP</text></g>
<g class="nd" id="validity-only-partial-state" transform="translate(2079,1273.500)"><rect class="el-x" x="1.750" y="1.750" width="168.500" height="53.500" rx="9"/><text class="t u" x="86" y="24.500">validity-only</text><text class="t u" x="86" y="48.500">partial state</text></g>
<g class="nd" id="endgame-state" transform="translate(2315,1273.500)"><rect class="el-o" x="1.750" y="1.750" width="168.500" height="53.500" rx="9"/><text class="t u" x="86" y="24.500">endgame</text><text class="t u" x="86" y="48.500">state</text><use href="#think" x="157" y="-13" width="30" height="30"/></g>
<g class="nd" id="evmify-precompiles" transform="translate(1371,1340.500)"><rect class="el-o" x="1.750" y="1.750" width="168.500" height="53.500" rx="9"/><text class="t u" x="86" y="24.500">EVMify long-tail</text><text class="t u" x="86" y="48.500">precompiles</text><rect class="eb" x="151" y="-13" width="40" height="27" rx="5"/><text class="et" x="171" y="7">EIP</text></g>
<g class="nd" id="misc-purges" transform="translate(1607,1340.500)"><rect class="el-o" x="1.750" y="1.750" width="168.500" height="53.500" rx="9"/><text class="t u" x="86" y="24.500">misc</text><text class="t u" x="86" y="48.500">purges</text><rect class="eb" x="151" y="-13" width="40" height="27" rx="5"/><text class="et" x="171" y="7">EIP</text></g>
<g class="nd" id="precompiles-in-zkisa" transform="translate(1843,1340.500)"><rect class="el-o" x="1.750" y="1.750" width="168.500" height="53.500" rx="9"/><text class="t" x="86" y="24.500">precompiles</text><text class="t" x="86" y="48.500">in zkISA</text><use href="#think" x="157" y="-13" width="30" height="30"/></g>
<g class="nd" id="stf-in-zkisa" transform="translate(2079,1340.500)"><rect class="el-o" x="1.750" y="1.750" width="168.500" height="53.500" rx="9"/><text class="t" x="86" y="24.500">STF</text><text class="t" x="86" y="48.500">in zkISA</text><use href="#think" x="157" y="-13" width="30" height="30"/></g>
<g class="nd" id="native-rollups" transform="translate(2315,1340.500)"><rect class="el-h" style="fill:#3c78d8" x="1.750" y="1.750" width="168.500" height="53.500" rx="9"/><text class="t u" x="86" y="24.500">native</text><text class="t u" x="86" y="48.500">rollups</text><rect class="eb" x="151" y="-13" width="40" height="27" rx="5"/><text class="et" x="171" y="7">EIP</text></g>
<g class="nd" id="proof-aggregation" transform="translate(2551,1340.500)"><rect class="el-o" x="1.750" y="1.750" width="168.500" height="53.500" rx="9"/><text class="t" x="86" y="24.500">proof</text><text class="t" x="86" y="48.500">aggregation</text></g>
<g class="nd" id="exposed-zkisa" transform="translate(2788,1340.500)"><rect class="el-o" x="1.750" y="1.750" width="168.500" height="53.500" rx="9"/><text class="t u" x="86" y="24.500">exposed</text><text class="t u" x="86" y="48.500">zkISA</text><use href="#think" x="157" y="-13" width="30" height="30"/></g>
<g class="nd" id="frame-transactions" transform="translate(1371,1408)"><rect class="el-h" style="fill:#4a86e8" x="1.750" y="1.750" width="168.500" height="53.500" rx="9"/><text class="t u" x="86" y="24.500">frame</text><text class="t u" x="86" y="48.500">transactions</text><rect class="eb" x="151" y="-13" width="40" height="27" rx="5"/><text class="et" x="171" y="7">EIP</text></g>
<g class="nd" id="aa-proofs" transform="translate(2788,1408)"><rect class="el-o" x="1.750" y="1.750" width="168.500" height="53.500" rx="9"/><text class="t" x="86" y="24.500">AA</text><text class="t" x="86" y="48.500">proofs</text></g>
<g class="nd" id="ephemeral-keys" transform="translate(1607,1475)"><rect class="el-x" x="1.750" y="1.750" width="168.500" height="53.500" rx="9"/><text class="t u" x="86" y="24.500">ephemeral</text><text class="t u" x="86" y="48.500">keys</text></g>
<g class="nd" id="pq-transactions" transform="translate(2551,1475)"><rect class="el-h" x="1.750" y="1.750" width="168.500" height="53.500" rx="9"/><text class="t" x="86" y="24.500">post quantum</text><text class="t" x="86" y="48.500">transactions</text></g>
<g class="nd" id="encrypted-mempool" transform="translate(1607,1542.500)"><rect class="el-x" x="1.750" y="1.750" width="168.500" height="53.500" rx="9"/><text class="t u" x="86" y="24.500">encrypted</text><text class="t u" x="86" y="48.500">mempool</text><rect class="eb" x="151" y="-13" width="40" height="27" rx="5"/><text class="et" x="171" y="7">EIP</text></g>
<g class="nd" id="private-l1" transform="translate(2788,1542.500)"><rect class="el-n" x="1.750" y="1.750" width="168.500" height="53.500" rx="9"/><text class="t s" x="86" y="24.500">private L1</text><text class="t i" x="86" y="48.500">shielded transfers</text></g>
</g>
<g id="legend">
<g class="nd" id="lg-cl-n" transform="translate(1022,1687)"><rect class="cl-n" x="1.750" y="1.750" width="166.500" height="55.500" rx="9"/><text class="lg" x="85" y="25">CL</text><text class="lg" x="85" y="49">north star</text></g>
<g class="nd" id="lg-dl-n" transform="translate(1257,1687)"><rect class="dl-n" x="1.750" y="1.750" width="166.500" height="55.500" rx="9"/><text class="lg" x="85" y="25">DL</text><text class="lg" x="85" y="49">north star</text></g>
<g class="nd" id="lg-el-n" transform="translate(1494,1687)"><rect class="el-n" x="1.750" y="1.750" width="166.500" height="55.500" rx="9"/><text class="lg" x="85" y="25">EL</text><text class="lg" x="85" y="49">north star</text></g>
<g class="nd" id="lg-xl-n" transform="translate(1729,1687)"><rect class="xl-n" x="1.750" y="1.750" width="166.500" height="55.500" rx="9"/><text class="lg" x="85" y="25">cross-layer</text><text class="lg" x="85" y="49">north star</text></g>
<g class="nd" id="lg-cl-h" transform="translate(1022,1754)"><rect class="cl-h" x="1.750" y="1.750" width="166.500" height="55.500" rx="9"/><text class="lg" x="85" y="25">CL</text><text class="lg" x="85" y="49">headliner</text></g>
<g class="nd" id="lg-dl-h" transform="translate(1257,1754)"><rect class="dl-h" x="1.750" y="1.750" width="166.500" height="55.500" rx="9"/><text class="lg" x="85" y="25">DL</text><text class="lg" x="85" y="49">headliner</text></g>
<g class="nd" id="lg-el-h" transform="translate(1494,1754)"><rect class="el-h" x="1.750" y="1.750" width="166.500" height="55.500" rx="9"/><text class="lg" x="85" y="25">EL</text><text class="lg" x="85" y="49">headliner</text></g>
<g class="nd" id="lg-cl-o" transform="translate(1022,1821)"><rect class="cl-o" x="1.750" y="1.750" width="166.500" height="55.500" rx="9"/><text class="lg" x="85" y="25">CL</text><text class="lg" x="85" y="49">onchain</text></g>
<g class="nd" id="lg-dl-o" transform="translate(1257,1821)"><rect class="dl-o" x="1.750" y="1.750" width="166.500" height="55.500" rx="9"/><text class="lg" x="85" y="25">DL</text><text class="lg" x="85" y="49">onchain</text></g>
<g class="nd" id="lg-el-o" transform="translate(1494,1821)"><rect class="el-o" x="1.750" y="1.750" width="166.500" height="55.500" rx="9"/><text class="lg" x="85" y="25">EL</text><text class="lg" x="85" y="49">onchain</text></g>
<g class="nd" id="lg-cl-x" transform="translate(1022,1887)"><rect class="cl-x" x="1.750" y="1.750" width="166.500" height="55.500" rx="9"/><text class="lg" x="85" y="25">CL</text><text class="lg" x="85" y="49">offchain</text></g>
<g class="nd" id="lg-dl-x" transform="translate(1257,1887)"><rect class="dl-x" x="1.750" y="1.750" width="166.500" height="55.500" rx="9"/><text class="lg" x="85" y="25">DL</text><text class="lg" x="85" y="49">offchain</text></g>
<g class="nd" id="lg-el-x" transform="translate(1494,1887)"><rect class="el-x" x="1.750" y="1.750" width="166.500" height="55.500" rx="9"/><text class="lg" x="85" y="25">EL</text><text class="lg" x="85" y="49">offchain</text></g>
<g class="nd" id="lg-xl-x" transform="translate(1729,1887)"><rect class="xl-x" x="1.750" y="1.750" width="166.500" height="55.500" rx="9"/><text class="lg" x="85" y="25">cross-layer</text><text class="lg" x="85" y="49">offchain</text></g>
</g>
<g id="disclaimers">
<rect x="2113" y="1726" width="794" height="185" rx="16" fill="#f3f3f3"/>
<text class="dis s" x="2525" y="1763" text-anchor="middle" style="fill:#999">DISCLAIMERS</text>
<text class="dis" x="2149" y="1813"><tspan class="s">→ strawman:</tspan> work-in-progress rough consensus</text>
<text class="dis" x="2149" y="1840"><tspan class="s">→ EF takes:</tspan> not authoritative or representative</text>
<text class="dis" x="2149" y="1867"><tspan class="s">→</tspan></text>
<use href="#think" x="2170" y="1850" width="27" height="28"/>
<text class="dis" x="2210" y="1867"><tspan class="s">emoji:</tspan> uncertainty about ever shipping upgrade</text>
</g>
</svg>
